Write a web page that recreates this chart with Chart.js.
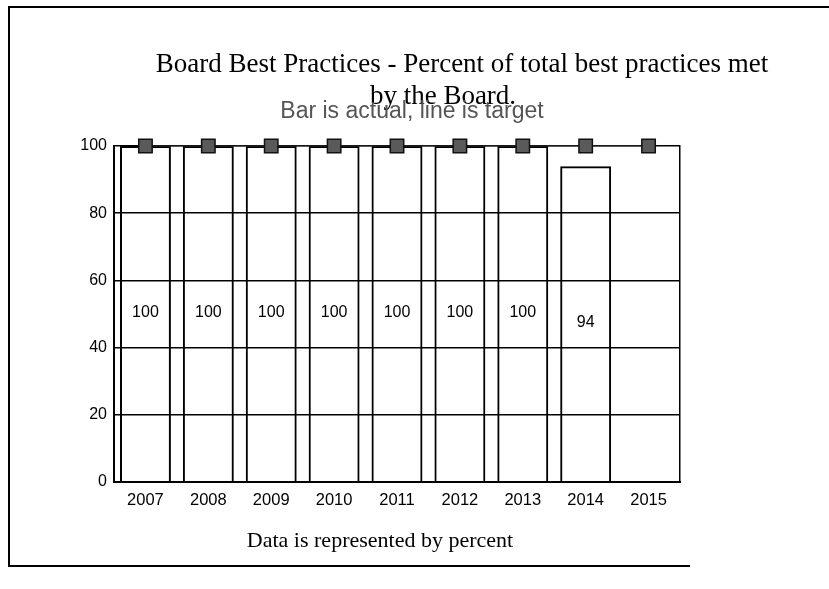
<!DOCTYPE html>
<html>
<head>
<meta charset="utf-8">
<script src="https://cdn.jsdelivr.net/npm/chart.js@4/dist/chart.umd.min.js"></script>
<style>
  body { margin: 0; background: #fff; }
  #wrap { position: relative; width: 829px; height: 589px; }
  #frame {
    position: absolute; left: 8px; top: 6px; width: 821px; height: 560px;
    border-left: 2.5px solid #000; border-top: 2.5px solid #000;
    box-sizing: border-box; pointer-events: none;
  }
  #frameBottom {
    position: absolute; left: 8px; top: 565px; width: 682px; height: 0;
    border-top: 2px solid #000; pointer-events: none;
  }
</style>
</head>
<body>
<div id="wrap">
  <canvas id="chart" width="829" height="589"></canvas>
  <div id="frame"></div>
  <div id="frameBottom"></div>
</div>
<script>
// data
const years = ['2007', '2008', '2009', '2010', '2011', '2012', '2013', '2014', '2015'];
const actual = [100, 100, 100, 100, 100, 100, 100, 94, null];
const target = [100, 100, 100, 100, 100, 100, 100, 100, 100];
const yTicks = [0, 20, 40, 60, 80, 100];

const titleLine1 = 'Board Best Practices - Percent of total best practices met';
const titleLine2 = 'by the Board.';
const subTitle = 'Bar is actual, line is target';
const footer = 'Data is represented by percent';

const sans = '"Liberation Sans", Arial, sans-serif';
const serif = '"Liberation Serif", "Times New Roman", serif';

// text drawn on the canvas: titles, footer, value labels in the middle of the bars
const textPlugin = {
    id: 'texts',
    afterDatasetsDraw(chart) {
        const ctx = chart.ctx;
        const meta = chart.getDatasetMeta(1);
        ctx.save();
        ctx.fillStyle = '#000';
        ctx.font = '16px ' + sans;
        ctx.textAlign = 'center';
        ctx.textBaseline = 'middle';
        meta.data.forEach(function(bar, i) {
            if (actual[i] === null) return;
            ctx.fillText(String(actual[i]), bar.x, (bar.y + bar.base) / 2 - 1);
        });
        ctx.restore();
    },
    afterDraw(chart) {
        const ctx = chart.ctx;
        ctx.save();
        ctx.textAlign = 'center';
        ctx.textBaseline = 'alphabetic';
        ctx.fillStyle = '#000';
        ctx.font = '27px ' + serif;
        ctx.fillText(titleLine1, 462, 72);
        ctx.fillText(titleLine2, 443, 104);
        ctx.fillStyle = '#555';
        ctx.font = '23px ' + sans;
        ctx.fillText(subTitle, 412, 118);
        ctx.fillStyle = '#000';
        ctx.font = '22px ' + serif;
        ctx.fillText(footer, 380, 547);
        ctx.restore();
    }
};

const ctx = document.getElementById('chart').getContext('2d');
const chart = new Chart(ctx, {
    data: {
        labels: years,
        datasets: [{
            type: 'line',
            label: 'Target',
            data: target,
            order: 1,
            borderColor: '#333',
            borderWidth: 1,
            pointStyle: 'rect',
            pointRadius: 9.5,
            pointBackgroundColor: '#5a5a5a',
            pointBorderColor: '#111',
            pointBorderWidth: 1.5,
            clip: false
        }, {
            type: 'bar',
            label: 'Actual',
            data: actual,
            order: 2,
            backgroundColor: 'rgba(255,255,255,0)',
            borderColor: '#000',
            borderWidth: 2,
            borderSkipped: 'bottom',
            categoryPercentage: 1,
            barPercentage: 0.81
        }]
    },
    options: {
        responsive: false,
        animation: false,
        devicePixelRatio: 1,
        layout: { padding: { left: 74, right: 149, top: 146, bottom: 77 } },
        plugins: {
            legend: { display: false },
            tooltip: { enabled: false }
        },
        scales: {
            x: {
                grid: { display: false, drawTicks: false },
                border: { color: '#000', width: 2 },
                ticks: {
                    color: '#000',
                    padding: 9,
                    font: { family: sans, size: 16.5 }
                },
                afterFit: function(scale) { scale.height = 30; }
            },
            y: {
                min: 0,
                max: 100,
                afterBuildTicks: function(scale) {
                    scale.ticks = yTicks.map(function(v) { return { value: v }; });
                },
                grid: { color: '#000', lineWidth: 1.5, drawTicks: false },
                border: { color: '#000', width: 2 },
                ticks: {
                    color: '#000',
                    padding: 7,
                    font: { family: sans, size: 16 }
                },
                afterFit: function(scale) { scale.width = 40; }
            },
            y2: {
                position: 'right',
                min: 0,
                max: 100,
                grid: { display: false, drawTicks: false },
                border: { color: '#000', width: 1.5 },
                ticks: { display: false },
                afterFit: function(scale) { scale.width = 0; }
            }
        }
    },
    plugins: [textPlugin]
});
</script>
</body>
</html>
